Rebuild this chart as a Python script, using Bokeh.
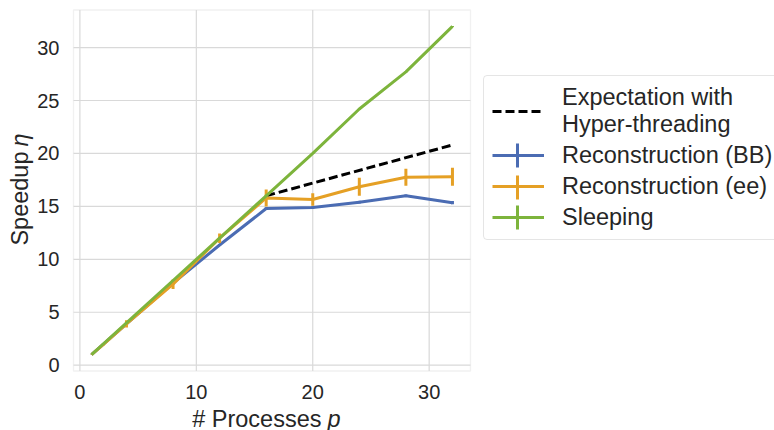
from math import pi
from bokeh.plotting import figure
from bokeh.models import Legend, LegendItem, Label, Range1d, FixedTicker, BoxAnnotation
from bokeh.embed import file_html
from bokeh.resources import INLINE

# ---------------- data ----------------
procs = [1, 2, 4, 8, 12, 16, 20, 24, 28, 32]
speedup_bb = [1.0, 1.97, 3.9, 7.75, 11.35, 14.8, 14.9, 15.4, 16.0, 15.35]
err_bb = [0.02, 0.04, 0.06, 0.08, 0.1, 0.12, 0.12, 0.12, 0.12, 0.15]
speedup_ee = [1.0, 1.95, 3.9, 7.65, 12.0, 15.8, 15.65, 16.85, 17.75, 17.8]
err_ee = [0.02, 0.08, 0.35, 0.45, 0.45, 0.8, 0.6, 0.85, 0.8, 0.85]
speedup_sleep = [1.0, 2.0, 4.0, 8.0, 12.0, 16.0, 20.0, 24.2, 27.7, 32.0]
err_sleep = [0.0, 0.02, 0.03, 0.05, 0.08, 0.1, 0.05, 0.05, 0.05, 0.05]
ht_procs = [16, 32]
ht_speedup = [16.0, 20.8]

x_ticks = [0, 10, 20, 30]
y_ticks = [0, 5, 10, 15, 20, 25, 30]
data_lim = (-0.55, 33.55)

labels = ["Expectation with\nHyper-threading", "Reconstruction (BB)",
          "Reconstruction (ee)", "Sleeping"]

# ---------------- style ----------------
C_BB = "#4b6cb3"
C_EE = "#e5a025"
C_SL = "#7db43c"
TXT = "#262626"
GRID = "#d9d9d9"
FONT = "Liberation Sans"

W, H = 774, 430
# inner plotting box in page pixels
F_LEFT, F_RIGHT, F_TOP, F_BOTTOM = 73.0, 470.0, 9.5, 370.5
KX = (data_lim[1] - data_lim[0]) / (F_RIGHT - F_LEFT)
KY = (data_lim[1] - data_lim[0]) / (F_BOTTOM - F_TOP)
XR = (data_lim[0] - F_LEFT * KX, data_lim[0] + (W - F_LEFT) * KX)
YR = (data_lim[0] - (H - F_BOTTOM) * KY, data_lim[1] + F_TOP * KY)


def px_x(X):
    return data_lim[0] + (X - F_LEFT) * KX


def px_y(Y):
    return data_lim[0] + (F_BOTTOM - Y) * KY


p = figure(width=W, height=H, output_backend="svg", toolbar_location=None,
           x_range=Range1d(*XR), y_range=Range1d(*YR), min_border=0)
p.background_fill_color = "white"
p.border_fill_color = "white"
p.outline_line_color = None
p.grid.visible = False

for ax in (p.xaxis, p.yaxis):
    ax.axis_line_color = None
    ax.major_tick_line_color = None
    ax.minor_tick_line_color = None
    ax.major_tick_out = 0
    ax.major_tick_in = 0
    ax.major_label_text_font = FONT
    ax.major_label_text_font_size = "20px"
    ax.major_label_text_color = TXT
p.xaxis.ticker = FixedTicker(ticks=x_ticks)
p.yaxis.ticker = FixedTicker(ticks=y_ticks)
p.xaxis.fixed_location = data_lim[0]
p.yaxis.fixed_location = data_lim[0]
p.xaxis.major_label_standoff = 14
p.yaxis.major_label_standoff = 14

# grid lines limited to the plotting box
p.segment(x0=x_ticks, y0=[data_lim[0]] * len(x_ticks), x1=x_ticks, y1=[data_lim[1]] * len(x_ticks),
          line_color=GRID, line_width=1.2)
p.segment(x0=[data_lim[0]] * len(y_ticks), y0=y_ticks, x1=[data_lim[1]] * len(y_ticks), y1=y_ticks,
          line_color=GRID, line_width=1.2)
p.add_layout(BoxAnnotation(left=data_lim[0], right=data_lim[1], bottom=data_lim[0], top=data_lim[1],
                           fill_alpha=0, line_color="#cfcfcf", line_width=1.3, level="underlay"))

LW = 3
r_ht = p.line(ht_procs, ht_speedup, line_color="black", line_width=LW, line_dash="9 4")


def series(y, err, color):
    lo = [a - e for a, e in zip(y, err)]
    hi = [a + e for a, e in zip(y, err)]
    r = p.line(procs, y, line_color=color, line_width=LW)
    p.segment(x0=procs, y0=lo, x1=procs, y1=hi, line_color=color, line_width=LW)
    return r


r_bb = series(speedup_bb, err_bb, C_BB)
r_ee = series(speedup_ee, err_ee, C_EE)
r_sl = series(speedup_sleep, err_sleep, C_SL)

# vertical error-bar ticks of the legend glyphs (seen through the transparent legend)
GX = 517
leg_rows = [155, 187, 217]
leg_cols = [C_BB, C_EE, C_SL]
p.segment(x0=[px_x(GX)] * 3, y0=[px_y(y + 12) for y in leg_rows],
          x1=[px_x(GX)] * 3, y1=[px_y(y - 12) for y in leg_rows],
          line_color=leg_cols, line_width=LW)

# ---------------- legend ----------------
legend = Legend(
    items=[LegendItem(label=labels[0], renderers=[r_ht]),
           LegendItem(label=labels[1], renderers=[r_bb]),
           LegendItem(label=labels[2], renderers=[r_ee]),
           LegendItem(label=labels[3], renderers=[r_sl])],
    location=(483, H - 240),
    label_text_font=FONT, label_text_font_size="23.5px", label_text_color=TXT,
    label_text_line_height=1.125,
    glyph_width=52, glyph_height=28, label_height=28, label_standoff=18,
    padding=8, spacing=3, margin=0,
    border_line_color="#cccccc", border_line_width=1.2, border_radius=4,
    background_fill_color="white", background_fill_alpha=0.0,
)
p.add_layout(legend, "center")

# ---------------- axis titles ----------------
p.add_layout(Label(x=px_x(321), y=px_y(418), text="# Processes", text_align="right",
                   text_baseline="alphabetic", text_font=FONT, text_font_size="23.5px",
                   text_color=TXT))
p.add_layout(Label(x=px_x(327), y=px_y(418), text="p", text_align="left",
                   text_baseline="alphabetic", text_font=FONT, text_font_size="23.5px",
                   text_font_style="italic", text_color=TXT))
p.add_layout(Label(x=px_x(19), y=px_y(151), text="Speedup", text_align="right",
                   text_baseline="alphabetic", angle=pi / 2, text_font=FONT,
                   text_font_size="23.5px", text_color=TXT))
p.add_layout(Label(x=px_x(19), y=px_y(146), text="η", text_align="left",
                   text_baseline="alphabetic", angle=pi / 2, text_font=FONT,
                   text_font_size="23.5px", text_font_style="italic", text_color=TXT))

open("out.html", "w").write(file_html(p, INLINE))
